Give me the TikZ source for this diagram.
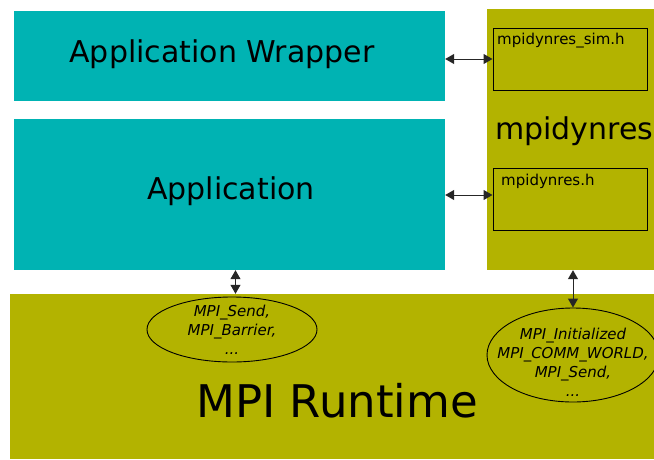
\documentclass[tikz,border=0pt]{standalone}
\usepackage{fontspec}
\setmainfont{DejaVu Sans}
\usetikzlibrary{shapes.geometric,arrows.meta}
\definecolor{tealbox}{RGB}{0,179,179}
\definecolor{olivebox}{RGB}{179,179,0}
\tikzset{
  bigbox/.style={fill=tealbox, draw=none, inner sep=0pt},
  olive/.style={fill=olivebox, draw=none, inner sep=0pt},
  hdrbox/.style={draw=black, line width=1pt, fill=none, inner sep=0pt},
  hdrlabel/.style={anchor=base west, inner sep=0pt, font=\fontsize{15}{18}\selectfont},
  callell/.style={ellipse, draw=black, line width=0.9pt, inner xsep=-20pt, inner ysep=-12pt, align=center,
    font=\fontsize{15}{19}\selectfont\itshape},
  conn/.style={{Triangle[length=9pt,width=10pt]}-{Triangle[length=9pt,width=10pt]}, line width=1pt, draw=black!85}
}
\begin{document}
\begin{tikzpicture}[x=1pt,y=-1pt]
\useasboundingbox (0,0) rectangle (654,459);
% MPI runtime
\node[olive, minimum width=644pt, minimum height=165pt] (mpi) at (332,376.5) {};
\node[anchor=base, inner sep=0pt, font=\fontsize{45}{54}\selectfont] (mpit) at (337,417) {MPI Runtime};
% mpidynres column
\node[olive, minimum width=167pt, minimum height=261pt] (md) at (570.5,139.5) {};
\node[anchor=base west, inner sep=0pt, font=\fontsize{30}{36}\selectfont] (mdt) at (495,139) {mpidynres};
\node[hdrbox, minimum width=154pt, minimum height=62pt] (simh) at (570,59) {};
\node[hdrlabel] (simht) at (497,44) {mpidynres\_sim.h};
\node[hdrbox, minimum width=154pt, minimum height=62pt] (mh) at (570,199) {};
\node[hdrlabel] (mht) at (501,185) {mpidynres.h};
% teal boxes
\node[bigbox, minimum width=431pt, minimum height=90pt] (aw) at (229.5,56) {};
\node[anchor=center, inner sep=0pt, font=\fontsize{30}{36}\selectfont] (awt) at (222,54) {Application Wrapper};
\node[bigbox, minimum width=431pt, minimum height=151pt] (app) at (229.5,194.5) {};
\node[anchor=center, inner sep=0pt, font=\fontsize{30}{36}\selectfont] (appt) at (231,191) {Application};
% ellipses
\node[callell, minimum width=170pt, minimum height=65pt] (e1) at (232,329.5) {MPI\_Send,\\MPI\_Barrier,\\...};
\node[callell, minimum width=172pt, minimum height=94pt] (e2) at (573,355) {\rule{0pt}{25pt}MPI\_Initialized\\MPI\_COMM\_WORLD,\\MPI\_Send,\\...};
% connectors
\draw[conn] (simh.west -| aw.east) -- (simh.west);
\draw[conn] (app.east) ++(0,0.5) coordinate (a2s) -- (a2s -| mh.west);
\draw[conn] ([xshift=6pt]app.south) -- ([xshift=6pt]app.south |- mpi.north);
\draw[conn] (md.south -| e2.north) -- (e2.north);
\end{tikzpicture}
\end{document}
